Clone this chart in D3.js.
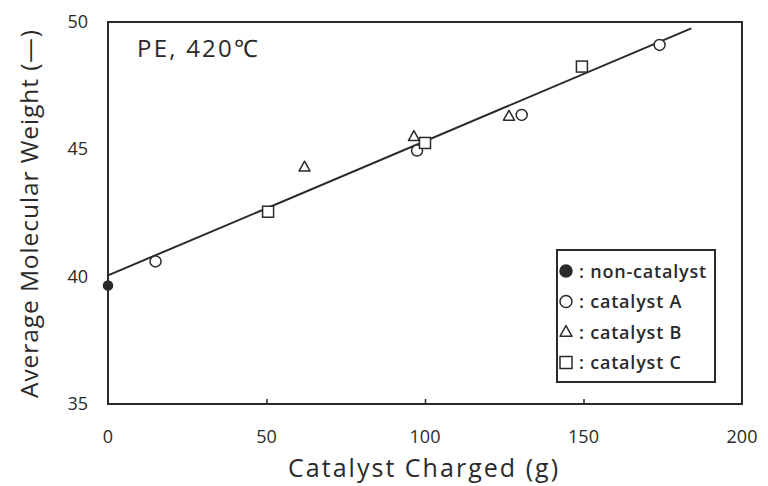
<!DOCTYPE html>
<html>
<head>
<meta charset="utf-8">
<script src="https://cdn.jsdelivr.net/npm/d3@7.9.0/dist/d3.min.js"></script>
<style>
  body { margin: 0; background: #fff; }
  svg text { font-family: "Open Sans", sans-serif; fill: #2a2a2a; }
</style>
</head>
<body>
<svg id="chart" width="768" height="486"></svg>
<script>
// data
const nonCatX = [0];
const nonCatY = [39.65];
const catAX = [15, 97.5, 130.5, 174];
const catAY = [40.6, 44.95, 46.35, 49.1];
const catBX = [62, 96.5, 126.5];
const catBY = [44.3, 45.5, 46.3];
const catCX = [50.5, 100, 149.5];
const catCY = [42.55, 45.25, 48.25];
const fitX = [0, 184];
const fitY = [40.05, 49.75];
const xTicks = [0, 50, 100, 150, 200];
const yTicks = [35, 40, 45, 50];
const legendLabels = ['non-catalyst', 'catalyst A', 'catalyst B', 'catalyst C'];
const legendShapes = ['dot', 'circle', 'triangle', 'square'];

const svg = d3.select('#chart');
const ink = '#2a2a2a';

let x = d3.scaleLinear().domain([0, 200]).range([108, 742]);
let y = d3.scaleLinear().domain([35, 50]).range([404, 22]);

// frame
svg.append('rect')
    .attr('x', x(0)).attr('y', y(50))
    .attr('width', x(200) - x(0)).attr('height', y(35) - y(50))
    .attr('fill', 'none').attr('stroke', ink).attr('stroke-width', 2);

// inward ticks on bottom axis
let xAxis = d3.axisBottom(x).tickValues([50, 100, 150]).tickSize(-5).tickFormat('');
let gx = svg.append('g').attr('transform', `translate(0,${y(35)})`).call(xAxis);
gx.select('.domain').remove();
gx.selectAll('line').attr('stroke', ink).attr('stroke-width', 1.5);

// tick labels
svg.append('g').selectAll('text').data(xTicks).join('text')
    .attr('x', d => x(d)).attr('y', 443)
    .attr('text-anchor', 'middle').attr('font-size', 18)
    .text(d => d);
svg.append('g').selectAll('text').data(yTicks).join('text')
    .attr('x', 88).attr('y', d => y(d) + 6)
    .attr('text-anchor', 'end').attr('font-size', 18)
    .text(d => d);

// axis titles
svg.append('text')
    .attr('x', 288).attr('y', 477).attr('font-size', 25)
    .attr('textLength', 270).attr('lengthAdjust', 'spacing')
    .text('Catalyst Charged (g)');
svg.append('text')
    .attr('transform', 'translate(38,398) rotate(-90)')
    .attr('font-size', 24.5)
    .attr('textLength', 368).attr('lengthAdjust', 'spacing')
    .text('Average Molecular Weight (\u2014)');

// annotation
svg.append('text')
    .attr('x', 137).attr('y', 57).attr('font-size', 24)
    .attr('textLength', 121).attr('lengthAdjust', 'spacing')
    .text('PE, 420\u2103');

// fitted line
let fit = fitX.map((d, i) => [d, fitY[i]]);
svg.append('path')
    .attr('d', d3.line().x(d => x(d[0])).y(d => y(d[1]))(fit))
    .attr('fill', 'none').attr('stroke', ink).attr('stroke-width', 2);

// marker drawing
function marker(g, shape, size) {
    if (shape === 'dot' || shape === 'circle') {
        g.append('circle').attr('r', size / 2)
            .attr('fill', shape === 'dot' ? ink : '#fff')
            .attr('stroke', ink).attr('stroke-width', 1.5);
    } else if (shape === 'triangle') {
        let h = size * 0.9;
        g.append('path')
            .attr('d', `M0,${-h * 0.6}L${size / 2},${h * 0.4}L${-size / 2},${h * 0.4}Z`)
            .attr('fill', '#fff').attr('stroke', ink).attr('stroke-width', 1.5)
            .attr('stroke-linejoin', 'round');
    } else {
        g.append('rect').attr('x', -size / 2).attr('y', -size / 2)
            .attr('width', size).attr('height', size)
            .attr('fill', '#fff').attr('stroke', ink).attr('stroke-width', 1.5);
    }
}

const groups = [
    [nonCatX, nonCatY, 'dot'],
    [catAX, catAY, 'circle'],
    [catBX, catBY, 'triangle'],
    [catCX, catCY, 'square'],
];
groups.forEach(([xs, ys, shape]) => {
    xs.forEach((d, i) => {
        let g = svg.append('g').attr('transform', `translate(${x(d)},${y(ys[i])})`);
        marker(g, shape, shape === 'dot' ? 9 : 11);
    });
});

// legend
let legend = svg.append('g').attr('transform', 'translate(557,250)');
legend.append('rect').attr('width', 158).attr('height', 132)
    .attr('fill', '#fff').attr('stroke', ink).attr('stroke-width', 2);
legendLabels.forEach((label, i) => {
    let row = legend.append('g').attr('transform', `translate(9,${21 + i * 30.5})`);
    marker(row.append('g'), legendShapes[i], 12);
    row.append('text').attr('x', 13).attr('y', 6.5)
        .attr('font-size', 18).attr('font-weight', 600)
        .attr('letter-spacing', 0.8)
        .text(': ' + label);
});
</script>
</body>
</html>
